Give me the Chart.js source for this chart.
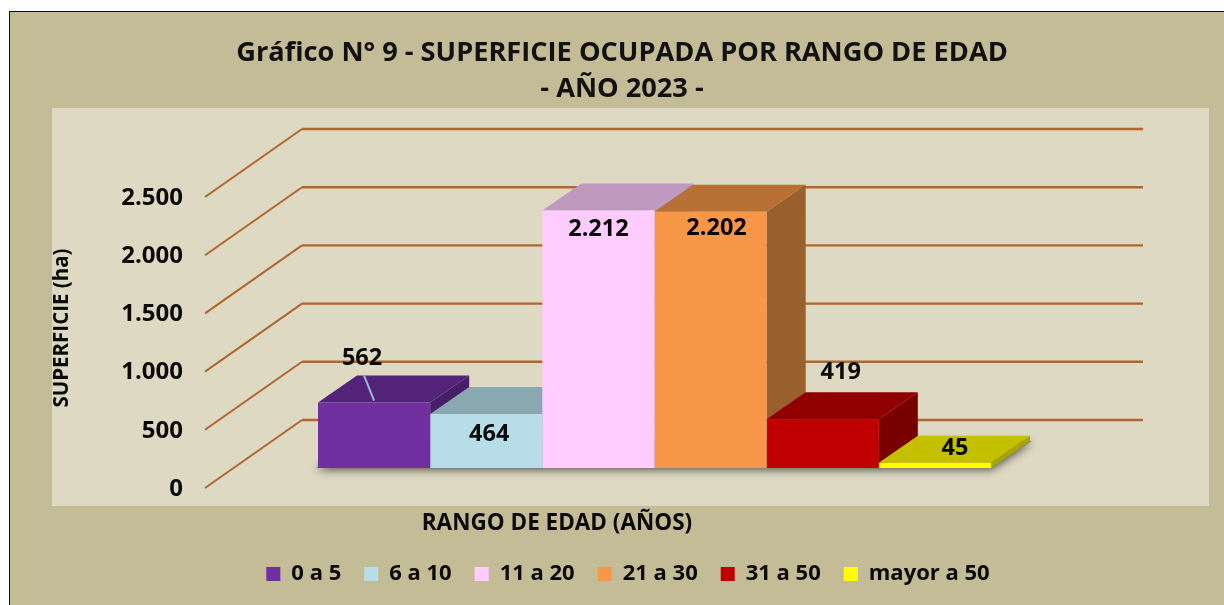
<!DOCTYPE html>
<html><head><meta charset="utf-8">
<script src="https://cdn.jsdelivr.net/npm/chart.js@4"></script>
<style>
html,body{margin:0;padding:0;background:#fff;overflow:hidden;width:1224px;height:605px}
#wrap{position:absolute;left:9px;top:11px;width:1215px;height:594px;overflow:hidden;border-left:1px solid #111;border-top:1px solid #111;box-sizing:border-box;background:#C4BC96}
canvas{display:block}
</style></head><body>
<div id="wrap"><canvas id="c" width="1224" height="593" style="width:1224px;height:593px"></canvas></div>
<script>
const categories = ["0 a 5","6 a 10","11 a 20","21 a 30","31 a 50","mayor a 50"];
const values = [562,464,2212,2202,419,45];
const valueLabels = ["562","464","2.212","2.202","419","45"];
const tickValues = [0,500,1000,1500,2000,2500];
const tickLabels = ["0","500","1.000","1.500","2.000","2.500"];
const frontColors = ["#7030A0","#B7DEE8","#FFCCFF","#F99749","#C00000","#FFFF00"];
const topColors = ["#522379","#8AA8B0","#BF99BF","#B87034","#900000","#C4C000"];
const sideColors = ["#471E68","#7E9AA2","#AD8AAD","#995F2D","#780000","#A8A400"];

const OX = 10, OY = 12;            // canvas origin on the page
const DEPTH_X = 39, DEPTH_Y = 27;  // bar depth
const WALL_X = 97, WALL_Y = 68;    // floor depth of the grid
const PX_PER_UNIT = 291/2500;
const AREA_H = 359;
const AXIS_RANGE = AREA_H/PX_PER_UNIT;
const BAR_MIN = -20/PX_PER_UNIT;
const labelOffsets = [[-12,-44],[3,20],[0,19],[6,17],[18,-47],[20,-14]];
const FONT = '"Open Sans"';
const BOTTOM_PAD = 10;

const decor = {
  id:'decor',
  beforeDraw(ch){
    const c = ch.ctx;
    c.save();
    c.fillStyle = '#C4BC96'; c.fillRect(0,0,ch.width,ch.height);
    c.fillStyle = '#DDD9C3'; c.fillRect(52-OX,108-OY,1157,398);
    c.restore();
  },
  beforeDatasetsDraw(ch){
    const c = ch.ctx, y2 = ch.scales.y2, L = ch.chartArea.left;
    c.save();
    // wall grid
    c.strokeStyle = '#B0662C';
    tickValues.forEach(v=>{
      const y = y2.getPixelForValue(v);
      c.lineWidth = 2;
      c.beginPath(); c.moveTo(L,y); c.lineTo(L+WALL_X,y-WALL_Y); c.stroke();
      c.lineWidth = 2.4;
      c.beginPath(); c.moveTo(L+WALL_X,y-WALL_Y); c.lineTo(1143-OX,y-WALL_Y); c.stroke();
    });
    const bars = ch.data.datasets.map((d,i)=>ch.getDatasetMeta(i).data[0]);
    const first = bars[0], last = bars[bars.length-1];
    const x0 = first.x-first.width/2, x1 = last.x+last.width/2, b = first.base;
    // floor shadow
    c.save();
    c.shadowColor = 'rgba(40,40,30,.75)'; c.shadowBlur = 9; c.shadowOffsetY = 2; c.shadowOffsetX = 0;
    c.fillStyle = '#8a8878';
    c.beginPath(); c.moveTo(x0-2,b); c.lineTo(x1,b); c.lineTo(x1+DEPTH_X+2,b-DEPTH_Y); c.lineTo(x0+DEPTH_X,b-DEPTH_Y); c.closePath(); c.fill();
    c.restore();
    // side and top faces, left to right
    bars.forEach((bar,i)=>{
      const l = bar.x-bar.width/2, r = bar.x+bar.width/2, t = bar.y, bb = bar.base;
      c.fillStyle = sideColors[i];
      c.beginPath(); c.moveTo(r,t); c.lineTo(r+DEPTH_X,t-DEPTH_Y); c.lineTo(r+DEPTH_X,bb-DEPTH_Y); c.lineTo(r,bb); c.closePath(); c.fill();
      c.fillStyle = topColors[i];
      c.beginPath(); c.moveTo(l,t); c.lineTo(r,t); c.lineTo(r+DEPTH_X,t-DEPTH_Y); c.lineTo(l+DEPTH_X,t-DEPTH_Y); c.closePath(); c.fill();
    });
    c.restore();
  },
  afterDatasetsDraw(ch){
    const c = ch.ctx;
    c.save();
    const bars = ch.data.datasets.map((d,i)=>ch.getDatasetMeta(i).data[0]);
    // leader line of first label
    c.strokeStyle = '#9DB8DC'; c.lineWidth = 2;
    c.beginPath(); c.moveTo(bars[0].x-10,bars[0].y-27); c.lineTo(bars[0].x,bars[0].y-2); c.stroke();
    c.fillStyle = '#0a0a0a';
    c.font = 'bold 23.5px '+FONT; c.textAlign='center'; c.textBaseline='middle';
    bars.forEach((bar,i)=>{
      c.fillText(valueLabels[i], bar.x+labelOffsets[i][0], bar.y+labelOffsets[i][1]);
    });
    // axis titles
    c.font = 'bold 22.5px '+FONT;
    c.fillText('RANGO DE EDAD (AÑOS)', 557-OX, 524-OY);
    c.font = 'bold 20.5px '+FONT;
    c.translate(62-OX,328-OY); c.rotate(-Math.PI/2);
    c.fillText('SUPERFICIE (ha)',0,0);
    c.restore();
  }
};

const blockPlacement = {
  id:'blockPlacement',
  afterLayout(ch){
    ch.titleBlock.left = 0; ch.titleBlock.right = 1224;
    ch.legend.left = 6; ch.legend.right = 1230;
  }
};

new Chart(document.getElementById('c'),{
  type:'bar',
  data:{
    labels:['Superficie'],
    datasets:categories.map((n,i)=>({
      label:n, data:[values[i]], backgroundColor:frontColors[i], yAxisID:'yBars',
      categoryPercentage:673/899, barPercentage:1, borderWidth:0
    }))
  },
  options:{
    responsive:false, animation:false,
    layout:{padding:{left:0,right:1224-(1104-OX),top:0,bottom:BOTTOM_PAD}},
    plugins:{
      tooltip:{enabled:false},
      title:{display:true,
        text:['Gráfico N° 9 - SUPERFICIE OCUPADA POR RANGO DE EDAD','- AÑO 2023 -'],
        color:'#111', font:{family:FONT,weight:'bold',size:27.2,lineHeight:36/27.2},
        padding:{top:23,bottom:22}},
      legend:{position:'bottom',
        labels:{boxWidth:14,boxHeight:14,padding:23,color:'#0a0a0a',
          font:{family:FONT,weight:'bold',size:22}}}
    },
    scales:{
      x:{display:true,grid:{display:false},border:{display:false},ticks:{display:false},
        afterFit(s){ s.height = 593-BOTTOM_PAD-s.chart.legend.height-(488-OY); }},
      yBars:{display:false,min:BAR_MIN,max:BAR_MIN+AXIS_RANGE},
      y2:{position:'left',min:0,max:AXIS_RANGE,grid:{display:false},border:{display:false},
        afterBuildTicks(s){ s.ticks = tickValues.map(v=>({value:v})); },
        afterFit(s){ s.width = 205-OX; },
        ticks:{padding:14,labelOffset:1,color:'#0a0a0a',font:{family:FONT,weight:'bold',size:24},
          callback(v){ return tickLabels[tickValues.indexOf(v)]; }}}
    }
  },
  plugins:[decor,blockPlacement]
});
</script>
</body></html>
